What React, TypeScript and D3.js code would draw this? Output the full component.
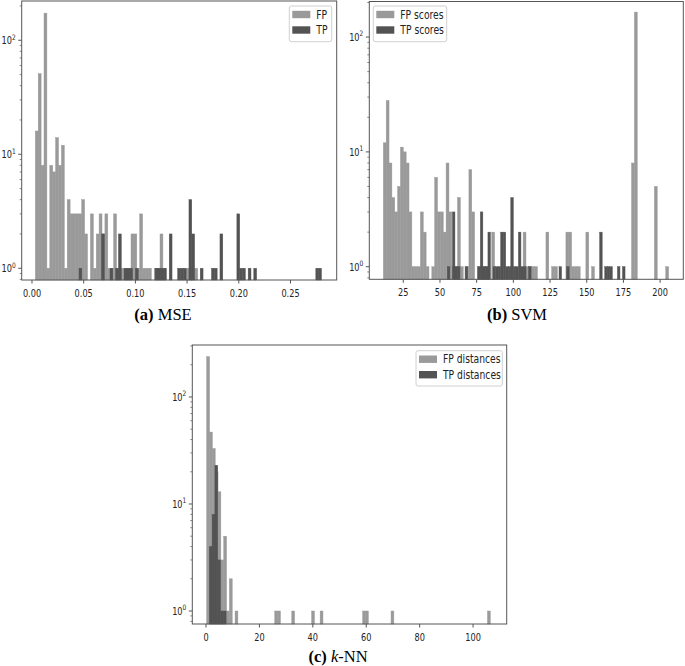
import React from 'react';
import * as d3 from 'd3';

// ---------- DATA ----------
// (a) MSE
const mseFpStart = 0.0032;
const mseFpWidth = 0.002805;
const mseFpCounts = [
  16, 51, 8, 173, 1, 8, 7, 14, 8, 12,
  1, 4, 3, 3, 3, 3, 4, 2, 0, 3,
  1, 2, 3, 2, 3, 1, 1, 3, 1, 1,
  1, 1, 1, 2, 2, 1, 3, 1, 1, 1,
  0, 1, 1, 2, 1, 0, 0, 0, 0, 0,
  0, 0, 1, 1, 1, 1,
];
const mseTpStart = 0.04545;
const mseTpWidth = 0.002727;
const mseTpCounts = [
  1, 0, 0, 0, 0, 0, 0, 0, 2, 0,
  0, 1, 0, 1, 2, 0, 1, 1, 1, 0,
  1, 0, 0, 0, 0, 0, 0, 1, 1, 1,
  1, 0, 2, 0, 0, 1, 1, 1, 0, 4,
  2, 0, 0, 1, 0, 0, 0, 1, 1, 0,
  2, 0, 0, 0, 0, 0, 3, 1, 1, 0,
  1, 0, 1, 0, 0, 0, 0, 0, 0, 0,
  0, 0, 0, 0, 0, 0, 0, 0, 0, 0,
  0, 0, 0, 0, 1, 1,
];
const mseXTicks = [0, 0.05, 0.1, 0.15, 0.2, 0.25];
const mseLegend = ['FP', 'TP'];

// (b) SVM
const svmFpStart = 11.4;
const svmFpWidth = 1.944;
const svmFpCounts = [
  12, 28, 8, 4, 3, 5, 11, 10, 8, 3,
  1, 1, 1, 3, 2, 1, 0, 1, 6, 3,
  3, 2, 8, 3, 1, 1, 4, 1, 0, 1,
  7, 3, 0, 1, 1, 1, 1, 0, 2, 0,
  0, 0, 0, 0, 0, 0, 0, 0, 0, 2,
  1, 1, 1, 1, 0, 0, 0, 2, 0, 1,
  1, 0, 0, 0, 2, 2, 1, 1, 1, 0,
  0, 2, 0, 1, 0, 0, 0, 0, 0, 0,
  0, 0, 0, 0, 0, 0, 0, 8, 165, 0,
  0, 0, 0, 0, 0, 5, 0, 0, 0, 1,
];
const svmTpStart = 55.0;
const svmTpWidth = 1.73;
const svmTpCounts = [
  1, 0, 3, 1, 1, 0, 0, 1, 0, 0,
  0, 0, 1, 3, 1, 1, 2, 0, 1, 1,
  1, 2, 2, 1, 1, 4, 1, 1, 2, 1,
  1, 0, 1, 0, 0, 0, 0, 0, 0, 0,
  0, 0, 0, 0, 1, 0, 0, 1, 0, 0,
  0, 0, 0, 0, 0, 0, 0, 0, 0, 0,
  2, 0, 1, 1, 1, 0, 0, 1, 0, 1,
];
const svmXTicks = [25, 50, 75, 100, 125, 150, 175, 200];
const svmLegend = ['FP scores', 'TP scores'];

// (c) k-NN
const knnFpStart = 0.26;
const knnFpWidth = 1.062;
const knnFpCounts = [
  238, 47, 33, 20, 13, 3, 5, 1, 2, 0,
  1, 0, 0, 0, 0, 0, 0, 0, 0, 0,
  0, 0, 0, 0, 1, 1, 0, 0, 0, 0,
  1, 0, 0, 0, 0, 0, 0, 1, 0, 0,
  1, 0, 0, 0, 0, 0, 0, 0, 0, 0,
  0, 0, 0, 0, 0, 1, 1, 0, 0, 0,
  0, 0, 0, 0, 0, 1, 0, 0, 0, 0,
  0, 0, 0, 0, 0, 0, 0, 0, 0, 0,
  0, 0, 0, 0, 0, 0, 0, 0, 0, 0,
  0, 0, 0, 0, 0, 0, 0, 0, 0, 1,
];
const knnTpStart = 1.24;
const knnTpWidth = 1.05;
const knnTpCounts = [4, 8, 23, 3, 1, 1];
const knnXTicks = [0, 20, 40, 60, 80, 100];
const knnLegend = ['FP distances', 'TP distances'];

const yMajorTicks = [1, 10, 100];

// ---------- STYLE / LAYOUT ----------
const FP_COLOR = '#9a9a9a';
const TP_COLOR = '#535353';
const SPINE = '#555';
const SANS = 'DejaVu Sans, Verdana, sans-serif';
const SERIF = 'Liberation Serif, Times New Roman, serif';

type Panel = {
  frame: { x0: number; x1: number; y0: number; y1: number };
  xDomain: [number, number];
  yDomain: [number, number];
  xTicks: number[];
  fmt: (v: number) => string;
  fp: { start: number; width: number; counts: number[] };
  tp: { start: number; width: number; counts: number[] };
  legend: string[];
  legendBox: { x: number; y: number; w: number; h: number };
  caption: { x: number; y: number; label: string; name: React.ReactNode };
};

const panels: Panel[] = [
  {
    frame: { x0: 21.7, x1: 336.7, y0: 1, y1: 280 },
    xDomain: [-0.00996, 0.2947],
    yDomain: [0.789, 221],
    xTicks: mseXTicks,
    fmt: d3.format('.2f'),
    fp: { start: mseFpStart, width: mseFpWidth, counts: mseFpCounts },
    tp: { start: mseTpStart, width: mseTpWidth, counts: mseTpCounts },
    legend: mseLegend,
    legendBox: { x: 289.3, y: 6, w: 42.4, h: 35.7 },
    caption: { x: 163, y: 320, label: '(a)', name: 'MSE' },
  },
  {
    frame: { x0: 369.3, x1: 683.3, y0: 1.5, y1: 279.3 },
    xDomain: [1.84, 215.8],
    yDomain: [0.777, 204],
    xTicks: svmXTicks,
    fmt: d3.format('d'),
    fp: { start: svmFpStart, width: svmFpWidth, counts: svmFpCounts },
    tp: { start: svmTpStart, width: svmTpWidth, counts: svmTpCounts },
    legend: svmLegend,
    legendBox: { x: 373.3, y: 6, w: 73.4, h: 35.7 },
    caption: { x: 517, y: 320, label: '(b)', name: 'SVM' },
  },
  {
    frame: { x0: 192.3, x1: 506.7, y0: 345, y1: 624 },
    xDomain: [-5.13, 112.6],
    yDomain: [0.756, 306],
    xTicks: knnXTicks,
    fmt: d3.format('d'),
    fp: { start: knnFpStart, width: knnFpWidth, counts: knnFpCounts },
    tp: { start: knnTpStart, width: knnTpWidth, counts: knnTpCounts },
    legend: knnLegend,
    legendBox: { x: 416, y: 350.7, w: 86.3, h: 35.3 },
    caption: {
      x: 338,
      y: 662,
      label: '(c)',
      name: (
        <>
          <tspan fontStyle="italic">k</tspan>-NN
        </>
      ),
    },
  },
];

function Bars({ s, xs, ys, y1, color }: any) {
  return (
    <g fill={color} stroke={color} strokeWidth={0.45}>
      {s.counts.map((c: number, i: number) => {
        if (!c) return null;
        const a = xs(s.start + i * s.width);
        const b = xs(s.start + (i + 1) * s.width);
        const top = ys(c);
        return <rect key={i} x={a} y={top} width={b - a} height={y1 - top} />;
      })}
    </g>
  );
}

function PanelView({ p }: { p: Panel }) {
  const { x0, x1, y0, y1 } = p.frame;
  const xs = d3.scaleLinear().domain(p.xDomain).range([x0, x1]);
  const ys = d3.scaleLog().domain(p.yDomain).range([y1, y0]);
  const minor = ys.ticks().filter((t) => !yMajorTicks.includes(t));
  const lb = p.legendBox;
  return (
    <g>
      <Bars s={p.fp} xs={xs} ys={ys} y1={y1} color={FP_COLOR} />
      <Bars s={p.tp} xs={xs} ys={ys} y1={y1} color={TP_COLOR} />
      <rect x={x0} y={y0} width={x1 - x0} height={y1 - y0} fill="none" stroke={SPINE} strokeWidth={1} />
      {/* x ticks */}
      {p.xTicks.map((t) => (
        <g key={t}>
          <line x1={xs(t)} x2={xs(t)} y1={y1} y2={y1 + 3.5} stroke={SPINE} />
          <text
            transform={`translate(${xs(t)},${y1 + 16.5}) scale(0.78,1)`}
            textAnchor="middle"
            fontSize={10.5}
            fontFamily={SANS}
            fill="#222"
          >
            {p.fmt(t)}
          </text>
        </g>
      ))}
      {/* y ticks */}
      {yMajorTicks.map((t, i) => (
        <g key={t}>
          <line x1={x0} x2={x0 - 3.5} y1={ys(t)} y2={ys(t)} stroke={SPINE} />
          <text
            transform={`translate(${x0 - 6},${ys(t) + 3.8}) scale(0.78,1)`}
            textAnchor="end"
            fontSize={10.5}
            fontFamily={SANS}
            fill="#222"
          >
            10
            <tspan dy={-4.5} fontSize={7.5}>
              {i}
            </tspan>
          </text>
        </g>
      ))}
      {minor.map((t) => (
        <line key={'m' + t} x1={x0} x2={x0 - 2} y1={ys(t)} y2={ys(t)} stroke={SPINE} strokeWidth={0.7} />
      ))}
      {/* legend */}
      <rect x={lb.x} y={lb.y} width={lb.w} height={lb.h} rx={2} fill="#fff" fillOpacity={0.8} stroke="#d0d0d0" />
      {p.legend.map((name, i) => {
        const cy = lb.y + 8.5 + i * 15.5;
        return (
          <g key={name}>
            <rect x={lb.x + 3} y={cy - 3.7} width={18} height={7.4} fill={i === 0 ? FP_COLOR : TP_COLOR} />
            <text
              transform={`translate(${lb.x + 27},${cy + 4}) scale(0.8,1)`}
              fontSize={11.5}
              fontFamily={SANS}
              fill="#222"
            >
              {name}
            </text>
          </g>
        );
      })}
      {/* caption */}
      <text x={p.caption.x} y={p.caption.y} textAnchor="middle" fontSize={16.5} fontFamily={SERIF} fill="#000">
        <tspan fontWeight="bold">{p.caption.label}</tspan> {p.caption.name}
      </text>
    </g>
  );
}

export default function App() {
  return (
    <svg
      width={685}
      height={666}
      viewBox="0 0 685 666"
      style={{ position: 'absolute', left: 0, top: 0, background: '#fff' }}
    >
      <rect x={0} y={0} width={685} height={666} fill="#fff" />
      {panels.map((p, i) => (
        <PanelView key={i} p={p} />
      ))}
    </svg>
  );
}
